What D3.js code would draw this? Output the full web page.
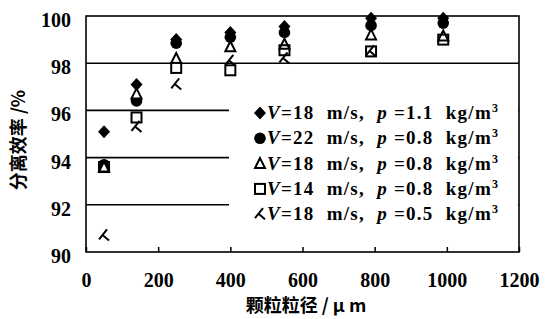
<!DOCTYPE html>
<html>
<head>
<meta charset="utf-8">
<script src="https://cdn.jsdelivr.net/npm/d3@7"></script>
<style>
body { margin: 0; background: #fff; }
text { font-family: "Liberation Serif", "DejaVu Serif", serif; font-weight: bold; fill: #000; }
.cjk { font-family: "Noto Sans CJK SC", sans-serif; font-weight: bold; }
</style>
</head>
<body>
<div id="the_chart"></div>
<script>
// particle size (um)
var sizes = [50, 140, 250, 400, 550, 790, 990];
// separation efficiency (%)
var eff_v18_p11 = [95.1, 97.1, 99.0, 99.3, 99.55, 99.9, 99.9];
var eff_v22_p08 = [93.7, 96.4, 98.85, 99.1, 99.3, 99.6, 99.7];
var eff_v18_p08 = [93.6, 96.7, 98.2, 98.7, 98.8, 99.2, 99.15];
var eff_v14_p08 = [93.6, 95.7, 97.8, 97.7, 98.55, 98.5, 99.0];
var eff_v18_p05 = [90.7, 95.3, 97.1, 98.1, 98.2, 98.5, null];
var legend_v = ["18", "22", "18", "14", "18"];
var legend_p = ["1.1", "0.8", "0.8", "0.8", "0.5"];
var xticks = [0, 200, 400, 600, 800, 1000, 1200];
var yticks = [90, 92, 94, 96, 98, 100];

var series = [
	{vals: eff_v18_p11, shape: "diamond"},
	{vals: eff_v22_p08, shape: "circle"},
	{vals: eff_v18_p08, shape: "triangle"},
	{vals: eff_v14_p08, shape: "square"},
	{vals: eff_v18_p05, shape: "hook"}
];

var w = 547, h = 319;
var svg = d3.select("#the_chart").append("svg")
			.attr("width", w)
			.attr("height", h);

var xscale = d3.scaleLinear().domain([0, 1200]).range([86, 519]);
var yscale = d3.scaleLinear().domain([90, 100]).range([252, 16]);

// gridlines (the lower ones get covered by the legend box)
svg.selectAll("line.grid")
		.data(yticks.slice(1, 5))
	.enter().append("line")
		.attr("class", "grid")
		.attr("x1", xscale(0))
		.attr("x2", xscale(1200))
		.attr("y1", function(d){ return yscale(d); })
		.attr("y2", function(d){ return yscale(d); })
		.attr("stroke", "#000")
		.attr("stroke-width", 1.6);

// legend background
var lg_x = 229, lg_y = 68;
svg.append("rect")
		.attr("x", lg_x).attr("y", lg_y)
		.attr("width", xscale(1200) - lg_x - 1)
		.attr("height", yscale(90) - lg_y - 3)
		.attr("fill", "#fff");

// frame
svg.append("rect")
		.attr("x", xscale(0)).attr("y", yscale(100))
		.attr("width", xscale(1200) - xscale(0))
		.attr("height", yscale(90) - yscale(100))
		.attr("fill", "none")
		.attr("stroke", "#000")
		.attr("stroke-width", 1.6);

// x axis ticks + labels
var xaxis = d3.axisBottom(xscale)
				.tickValues(xticks)
				.tickSizeInner(-5)
				.tickSizeOuter(0)
				.tickPadding(21)
				.tickFormat(d3.format("d"));
var gx = svg.append("g")
		.attr("transform", "translate(0," + yscale(90) + ")")
		.call(xaxis);
gx.select(".domain").remove();
gx.selectAll("line").attr("stroke-width", 1.5);
gx.selectAll("text").style("font-size", "20px").attr("font-family", null);

// y axis labels
var yaxis = d3.axisLeft(yscale)
				.tickValues(yticks)
				.tickSize(0)
				.tickPadding(15);
var gy = svg.append("g")
		.attr("transform", "translate(" + xscale(0) + ",4)")
		.call(yaxis);
gy.select(".domain").remove();
gy.selectAll("text").style("font-size", "20px").attr("font-family", null);

function marker(sel, shape) {
	if (shape == "diamond") {
		sel.append("path").attr("d", "M0,-6.5L6,0L0,6.5L-6,0Z").attr("fill", "#000");
	} else if (shape == "circle") {
		sel.append("circle").attr("r", 5.8).attr("fill", "#000");
	} else if (shape == "triangle") {
		sel.append("path").attr("d", "M0,-5.5L5,4.5L-5,4.5Z")
			.attr("fill", "#fff").attr("stroke", "#000").attr("stroke-width", 2);
	} else if (shape == "square") {
		sel.append("rect").attr("x", -5).attr("y", -5).attr("width", 10).attr("height", 10)
			.attr("fill", "none").attr("stroke", "#000").attr("stroke-width", 2);
	} else {
		sel.append("path").attr("d", "M3,-6L-5,4M-1.5,-0.5L5,5")
			.attr("fill", "none").attr("stroke", "#000").attr("stroke-width", 2);
	}
}

series.forEach(function(s) {
	var pts = sizes.map(function(d, i){ return {x: d, y: s.vals[i]}; })
				.filter(function(d){ return d.y != null; });
	svg.append("g").selectAll("g")
			.data(pts)
		.enter().append("g")
			.attr("transform", function(d){ return "translate(" + xscale(d.x) + "," + yscale(d.y) + ")"; })
			.each(function(){ marker(d3.select(this), s.shape); });
});

// legend
var rows = svg.append("g").selectAll("g")
		.data(series)
	.enter().append("g")
		.attr("transform", function(d, i){ return "translate(260," + (113 + i * 25.3) + ")"; });
rows.each(function(d){ marker(d3.select(this), d.shape); });
var lt = rows.append("text")
		.attr("x", 7)
		.attr("y", 6)
		.style("font-size", "19px")
		.attr("textLength", 231)
		.attr("lengthAdjust", "spacing");
lt.append("tspan").style("font-style", "italic").text("V");
lt.append("tspan").text(function(d, i){ return "=" + legend_v[i] + "\u00a0\u00a0m/s,\u00a0\u00a0"; });
lt.append("tspan").style("font-style", "italic").text("p");
lt.append("tspan").text(function(d, i){ return "\u00a0=" + legend_p[i] + "\u00a0\u00a0kg/m"; });
lt.append("tspan").attr("dy", -7).style("font-size", "12px").text("3");

// axis titles
svg.append("text")
		.attr("class", "cjk")
		.attr("x", 306).attr("y", 312)
		.attr("text-anchor", "middle")
		.style("font-size", "18px")
		.text("颗粒粒径 / μ m");
svg.append("text")
		.attr("class", "cjk")
		.attr("transform", "translate(25,140) rotate(-90)")
		.attr("text-anchor", "middle")
		.style("font-size", "18px")
		.text("分离效率 /%");
</script>
</body>
</html>
